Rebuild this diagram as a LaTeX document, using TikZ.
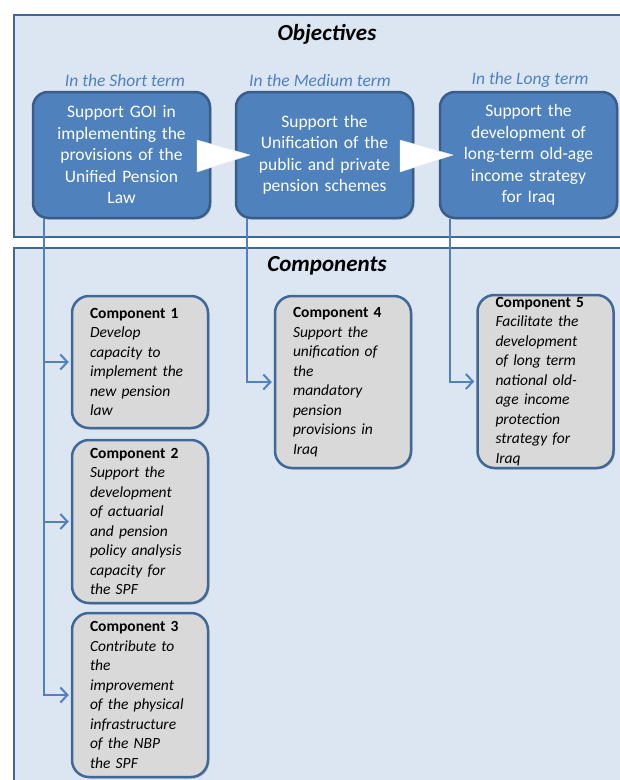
\documentclass[tikz,border=0pt]{standalone}
\usepackage{fontspec}
\setmainfont{Carlito}
\usetikzlibrary{arrows.meta,shadows}
\definecolor{framefill}{HTML}{DCE6F2}
\definecolor{framedraw}{HTML}{3F6797}
\definecolor{objfill}{HTML}{4F81BD}
\definecolor{objdraw}{HTML}{385D8A}
\definecolor{compfill}{HTML}{D9D9D9}
\definecolor{linkblue}{HTML}{4F81BD}
\tikzset{
  frame/.style={draw=framedraw, fill=framefill, line width=2.5pt},
  ttl/.style={font=\fontsize{23}{27}\selectfont\bfseries\itshape, text=black},
  term/.style={font=\fontsize{17.5}{21}\selectfont\itshape, text=linkblue},
  objbox/.style={draw=objdraw, fill=objfill, line width=2.5pt, rounded corners=15pt,
    minimum width=177pt, minimum height=126pt, text width=160pt, align=center,
    text=white, font=\fontsize{17.5}{21.5}\selectfont, inner sep=0pt,
    drop shadow={shadow xshift=1.5pt, shadow yshift=-1.5pt, opacity=0.35}},
  compbox/.style={draw=framedraw, fill=compfill, line width=2.5pt, rounded corners=17pt,
    minimum width=136pt, text width=100pt, align=left, inner xsep=18pt, inner ysep=0pt,
    text=black, font=\fontsize{15.5}{19.5}\selectfont,
    drop shadow={shadow xshift=1.5pt, shadow yshift=-1.5pt, opacity=0.35}},
  conn/.style={draw=linkblue, line width=2pt},
  tip/.style={-{Straight Barb[length=7pt,width=15pt,line width=2pt]}},
  tri/.style={fill=white, draw=white!85!gray, line width=0.4pt}
}
\begin{document}
\begin{tikzpicture}[x=1pt,y=-1pt]
\clip (0,0) rectangle (620,780);
\fill[white] (0,0) rectangle (620,780);
% frames
\draw[frame] (14,15) rectangle (640,237);
\draw[frame] (14,248) rectangle (640,800);
\node[ttl] (tobj) at (327,34) {Objectives};
\node[ttl] (tcomp) at (327,266) {Components};
\node[term] (t1) at (125,80) {In the Short term};
\node[term] (t2) at (320,80) {In the Medium term};
\node[term] (t3) at (530,80) {In the Long term};
% objective boxes
\node[objbox] (o1) at (121.5,155) {Support GOI in\\implementing the\\provisions of the\\Unified Pension\\Law};
\node[objbox] (o2) at (324.5,155) {Support the\\Unification of the\\public and private\\pension schemes};
\node[objbox] (o3) at (528.5,155) {Support the\\development of\\long-term old-age\\income strategy\\for Iraq};
% white arrows
\path[tri] (197,140) -- (250,155) -- (197,172) -- cycle;
\path[tri] (400,140) -- (453,155) -- (400,172) -- cycle;
% component boxes
\node[compbox, minimum height=132pt] (c1) at (140,362) {\textbf{Component 1}\\\itshape Develop\\capacity to\\implement the\\new pension\\law};
\node[compbox, minimum height=163pt] (c2) at (140,521.5) {\textbf{Component 2}\\\itshape Support the\\development\\of actuarial\\and pension\\policy analysis\\capacity for\\the SPF};
\node[compbox, minimum height=164pt] (c3) at (140,695) {\textbf{Component 3}\\\itshape Contribute to\\the\\improvement\\of the physical\\infrastructure\\of the NBP\\the SPF};
\node[compbox, minimum height=172pt] (c4) at (343,382) {\textbf{Component 4}\\\itshape Support the\\unification of\\the\\mandatory\\pension\\provisions in\\Iraq};
\node[compbox, minimum height=173pt] (c5) at (545.5,381.5) {\textbf{Component 5}\\\itshape Facilitate the\\development\\of long term\\national old-\\age income\\protection\\strategy for\\Iraq};
% connectors
\coordinate (s1) at (44,219);
\coordinate (s2) at (247,219);
\coordinate (s3) at (450,219);
\draw[conn,tip] (s1) |- ([xshift=-2pt]c3.west);
\draw[conn,tip] (c1.west -| s1) -- ([xshift=-2pt]c1.west);
\draw[conn,tip] (c2.west -| s1) -- ([xshift=-2pt]c2.west);
\draw[conn,tip] (s2) |- ([xshift=-2pt]c4.west);
\draw[conn,tip] (s3) |- ([xshift=-2pt]c5.west);
\end{tikzpicture}
\end{document}
